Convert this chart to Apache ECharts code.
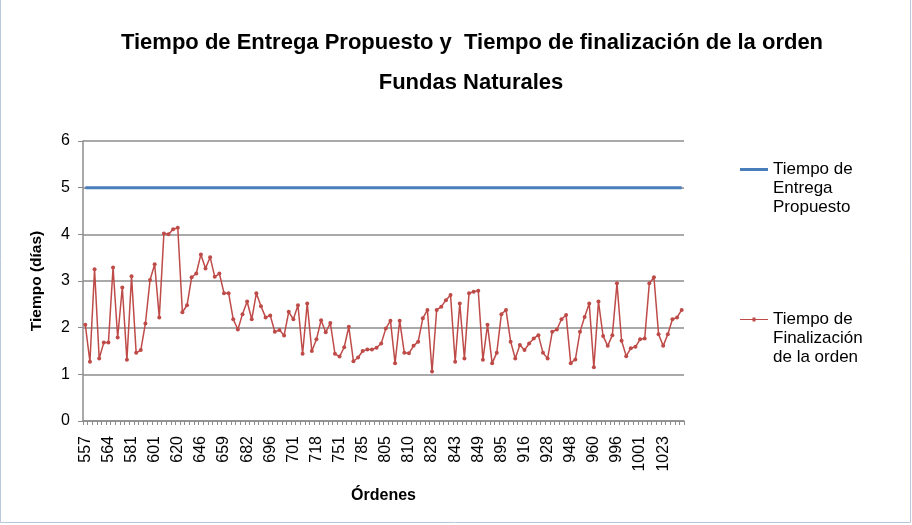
<!DOCTYPE html>
<html>
<head>
<meta charset="utf-8">
<script src="https://cdn.jsdelivr.net/npm/echarts@6/dist/echarts.min.js"></script>
<style>
  html, body { margin: 0; padding: 0; background: #ffffff; }
  #chart { width: 912px; height: 525px; }
</style>
</head>
<body>
<div id="chart"></div>
<script>
// Order numbers printed on the x axis (one every fifth order)
const tickLabels = ['557', '564', '581', '601', '620', '646', '659', '682', '696', '701',
  '718', '751', '785', '805', '810', '828', '843', '849', '895', '916',
  '928', '948', '960', '996', '1001', '1023'];

// Completion time of each order, in days
const tiempoFinalizacion = [
  2.06, 1.27, 3.25, 1.34, 1.68, 1.68, 3.29, 1.79, 2.86, 1.31,
  3.10, 1.46, 1.52, 2.09, 3.02, 3.36, 2.22, 4.02, 4.00, 4.11,
  4.14, 2.33, 2.48, 3.08, 3.16, 3.57, 3.27, 3.51, 3.09, 3.16,
  2.74, 2.74, 2.18, 1.96, 2.29, 2.56, 2.18, 2.74, 2.46, 2.22,
  2.26, 1.91, 1.95, 1.83, 2.34, 2.18, 2.48, 1.44, 2.52, 1.50,
  1.75, 2.16, 1.90, 2.10, 1.44, 1.38, 1.58, 2.02, 1.28, 1.36,
  1.50, 1.53, 1.53, 1.57, 1.66, 1.98, 2.15, 1.24, 2.15, 1.46,
  1.45, 1.61, 1.70, 2.20, 2.38, 1.06, 2.38, 2.45, 2.59, 2.70,
  1.27, 2.52, 1.34, 2.74, 2.77, 2.79, 1.31, 2.06, 1.24, 1.46,
  2.29, 2.38, 1.70, 1.34, 1.63, 1.52, 1.66, 1.77, 1.84, 1.46,
  1.34, 1.91, 1.96, 2.18, 2.27, 1.24, 1.32, 1.91, 2.23, 2.52,
  1.15, 2.56, 1.82, 1.61, 1.84, 2.95, 1.72, 1.39, 1.56, 1.59,
  1.75, 1.77, 2.95, 3.08, 1.86, 1.61, 1.86, 2.18, 2.22, 2.38
];

// Proposed delivery time for every order, in days
const tiempoPropuesto = [
  5, 5, 5, 5, 5, 5, 5, 5, 5, 5,
  5, 5, 5, 5, 5, 5, 5, 5, 5, 5,
  5, 5, 5, 5, 5, 5, 5, 5, 5, 5,
  5, 5, 5, 5, 5, 5, 5, 5, 5, 5,
  5, 5, 5, 5, 5, 5, 5, 5, 5, 5,
  5, 5, 5, 5, 5, 5, 5, 5, 5, 5,
  5, 5, 5, 5, 5, 5, 5, 5, 5, 5,
  5, 5, 5, 5, 5, 5, 5, 5, 5, 5,
  5, 5, 5, 5, 5, 5, 5, 5, 5, 5,
  5, 5, 5, 5, 5, 5, 5, 5, 5, 5,
  5, 5, 5, 5, 5, 5, 5, 5, 5, 5,
  5, 5, 5, 5, 5, 5, 5, 5, 5, 5,
  5, 5, 5, 5, 5, 5, 5, 5, 5, 5
];

const yTicks = [0, 1, 2, 3, 4, 5, 6];

const LABEL_STEP = 5;
// One category per order; only every fifth carries its number
const categorias = tiempoFinalizacion.map((_, i) =>
  i % LABEL_STEP === 0 ? (tickLabels[i / LABEL_STEP] || '') : '');

const FONT = '"Liberation Sans", Arial, sans-serif';
const BLUE = '#4a7ebb';
const RED = '#be4b48';
const NAME_ENTREGA = 'Tiempo de Entrega Propuesto';
const NAME_FIN = 'Tiempo de Finalización de la orden';

// Two blank lines first, so the first written line sits level with the icon
const legendText = {};
legendText[NAME_ENTREGA] = '\n\nTiempo de\nEntrega\nPropuesto';
legendText[NAME_FIN] = '\n\nTiempo de\nFinalización\nde la orden';

const legendCommon = {
  orient: 'vertical',
  left: 735,
  itemWidth: 28,
  formatter: n => legendText[n],
  textStyle: { fontFamily: FONT, fontSize: 17, color: '#000', lineHeight: 19 }
};

const chart = echarts.init(document.getElementById('chart'), null, { renderer: 'canvas' });
chart.setOption({
  animation: false,
  backgroundColor: '#ffffff',
  title: [
    {
      text: 'Tiempo de Entrega Propuesto y  Tiempo de finalización de la orden',
      left: 467, top: 27, textAlign: 'center',
      textStyle: { fontFamily: FONT, fontSize: 22, fontWeight: 'bold', color: '#000' }
    },
    {
      text: 'Fundas Naturales',
      left: 466, top: 67, textAlign: 'center',
      textStyle: { fontFamily: FONT, fontSize: 22, fontWeight: 'bold', color: '#000' }
    }
  ],
  legend: [
    Object.assign({}, legendCommon, {
      top: 117, itemHeight: 3,
      data: [{ name: NAME_ENTREGA, icon: 'rect' }]
    }),
    Object.assign({}, legendCommon, {
      top: 267, itemHeight: 7,
      data: [{ name: NAME_FIN, icon: 'path://M0,3 L28,3 L28,4.2 L0,4.2 Z M12.5,1.5 L15.5,1.5 L15.5,5.7 L12.5,5.7 Z' }]
    })
  ],
  grid: { left: 83, right: 228, top: 141, bottom: 104, containLabel: false },
  xAxis: {
    type: 'category',
    data: categorias,
    boundaryGap: true,
    name: 'Órdenes',
    nameLocation: 'middle',
    nameGap: 67,
    nameTextStyle: { fontFamily: FONT, fontSize: 16, fontWeight: 'bold', color: '#000' },
    axisLine: { lineStyle: { color: '#8c8c8c', width: 1.5 } },
    axisTick: { show: true, interval: 0, length: 4, lineStyle: { color: '#8c8c8c' } },
    axisLabel: {
      interval: 0, rotate: 90, margin: 15,
      fontFamily: FONT, fontSize: 16, color: '#000'
    },
    splitLine: { show: false }
  },
  yAxis: {
    type: 'value',
    min: yTicks[0], max: yTicks[yTicks.length - 1], interval: 1,
    name: 'Tiempo (días)',
    nameLocation: 'middle',
    nameGap: 38,
    nameRotate: 90,
    nameTextStyle: { fontFamily: FONT, fontSize: 15.5, fontWeight: 'bold', color: '#000' },
    axisLine: { show: true, lineStyle: { color: '#8c8c8c', width: 1.5 } },
    axisTick: { show: true, length: 5, lineStyle: { color: '#8c8c8c' } },
    axisLabel: { margin: 13, fontFamily: FONT, fontSize: 16, color: '#000' },
    splitLine: { show: true, lineStyle: { color: '#8c8c8c', width: 1.5 } }
  },
  series: [
    {
      name: NAME_ENTREGA,
      type: 'line',
      data: tiempoPropuesto,
      symbol: 'none',
      lineStyle: { color: BLUE, width: 3 },
      itemStyle: { color: BLUE },
      z: 3
    },
    {
      name: NAME_FIN,
      type: 'line',
      data: tiempoFinalizacion,
      symbol: 'circle',
      symbolSize: 4,
      lineStyle: { color: RED, width: 1.5 },
      itemStyle: { color: RED },
      z: 4
    }
  ],
  graphic: [
    {
      type: 'rect',
      shape: { x: 0.5, y: -1, width: 910, height: 523.5 },
      style: { fill: 'none', stroke: '#b8c7dc', lineWidth: 1 },
      silent: true
    }
  ]
});
</script>
</body>
</html>
